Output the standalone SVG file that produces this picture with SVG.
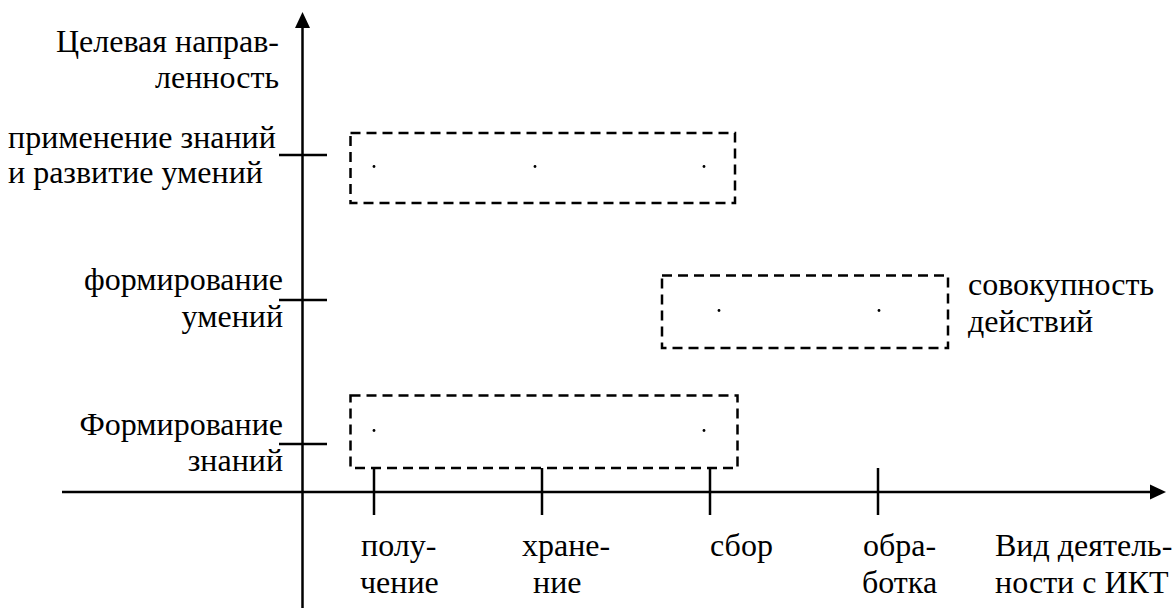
<svg xmlns="http://www.w3.org/2000/svg" width="1173" height="608" viewBox="0 0 1173 608">
<style>
.t{font-family:"Liberation Serif","Times New Roman",serif;font-size:32px;fill:#000}
.r{text-anchor:end}
.ax{stroke:#000;stroke-width:2.5;fill:none}
.box{stroke:#000;stroke-width:2.5;fill:none;stroke-dasharray:10 6}
.dot{fill:#000}
</style>
<defs>
<marker id="arrowhead" markerWidth="16" markerHeight="16" refX="0" refY="8" orient="auto" markerUnits="userSpaceOnUse" viewBox="0 0 16 16">
<path d="M0,0.5 L16,8 L0,15.5 z" fill="#000"/>
</marker>
</defs>
<rect width="1173" height="608" fill="#fff"/>
<g id="connectors">
<line class="ax" x1="302.5" y1="608" x2="302.5" y2="28" marker-end="url(#arrowhead)"/>
<line class="ax" x1="62" y1="492" x2="1150" y2="492" marker-end="url(#arrowhead)"/>
<line class="ax" x1="279" y1="155" x2="327" y2="155"/>
<line class="ax" x1="279" y1="300" x2="327" y2="300"/>
<line class="ax" x1="279" y1="444" x2="327" y2="444"/>
<line class="ax" x1="374" y1="468" x2="374" y2="515"/>
<line class="ax" x1="542" y1="468" x2="542" y2="515"/>
<line class="ax" x1="710" y1="468" x2="710" y2="515"/>
<line class="ax" x1="878" y1="468" x2="878" y2="515"/>
</g>
<g id="box1">
<rect class="box" x="350.5" y="133" width="384.5" height="70"/>
<circle class="dot" cx="374" cy="166.5" r="1.4"/>
<circle class="dot" cx="535" cy="166.5" r="1.4"/>
<circle class="dot" cx="704" cy="166.5" r="1.4"/>
</g>
<g id="box2">
<rect class="box" x="662" y="275.5" width="286" height="72.5"/>
<circle class="dot" cx="719" cy="310.5" r="1.4"/>
<circle class="dot" cx="879" cy="310.5" r="1.4"/>
</g>
<g id="box3">
<rect class="box" x="350.5" y="395.5" width="387" height="72.5"/>
<circle class="dot" cx="374" cy="430.5" r="1.4"/>
<circle class="dot" cx="704" cy="430.5" r="1.4"/>
</g>
<g id="ylabel">
<text class="t r" x="279" y="52">Целевая направ-</text>
<text class="t r" x="279" y="88">ленность</text>
</g>
<g id="y3">
<text class="t" x="8" y="148">применение знаний</text>
<text class="t" x="8" y="183">и развитие умений</text>
</g>
<g id="y2">
<text class="t r" x="283" y="290">формирование</text>
<text class="t r" x="283" y="327">умений</text>
</g>
<g id="y1">
<text class="t r" x="283" y="435">Формирование</text>
<text class="t r" x="283" y="471">знаний</text>
</g>
<g id="x1">
<text class="t" x="361" y="556">полу-</text>
<text class="t" x="360" y="593">чение</text>
</g>
<g id="x2">
<text class="t" x="522" y="556">хране-</text>
<text class="t" x="533" y="593">ние</text>
</g>
<g id="x3">
<text class="t" x="710" y="556">сбор</text>
</g>
<g id="x4">
<text class="t" x="863" y="556">обра-</text>
<text class="t" x="862" y="593">ботка</text>
</g>
<g id="xlabel">
<text class="t" x="995" y="556">Вид деятель-</text>
<text class="t" x="995" y="593">ности с ИКТ</text>
</g>
<g id="note">
<text class="t" x="968" y="295">совокупность</text>
<text class="t" x="968" y="332">действий</text>
</g>
</svg>
